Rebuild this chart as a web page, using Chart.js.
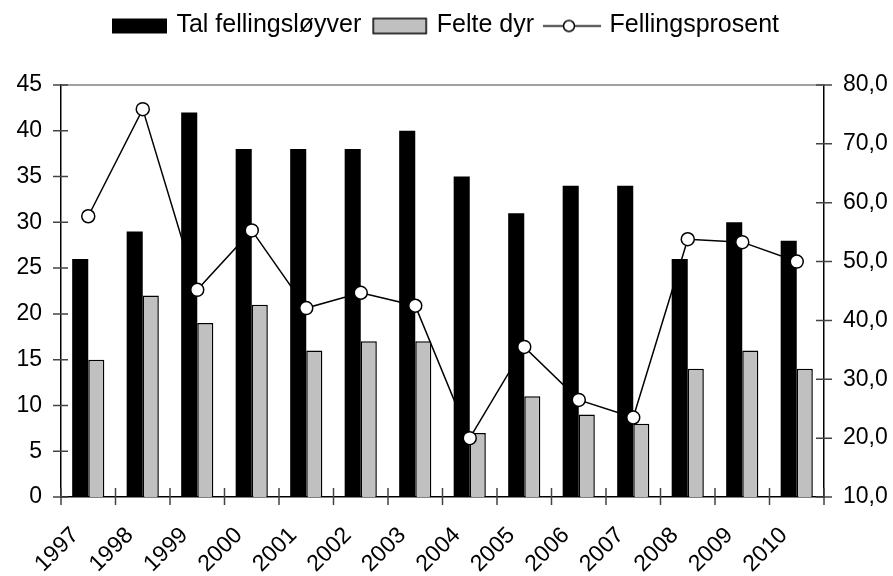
<!DOCTYPE html>
<html>
<head>
    <title>Fellingsprosent</title>
    <style>
        body { margin: 0; background: #fff; }
        .chartBox { width: 893px; height: 576px; }
    </style>
</head>
<body>
    <div class="chartBox">
        <canvas id="myChart" width="893" height="576"></canvas>
    </div>
</body>
<script src="https://cdn.jsdelivr.net/npm/chart.js"></script>
<script>
    // data
    const years = ["1997", "1998", "1999", "2000", "2001", "2002", "2003",
                   "2004", "2005", "2006", "2007", "2008", "2009", "2010"];
    const talFellingsloyver = [26, 29, 42, 38, 38, 38, 40, 35, 31, 34, 34, 26, 30, 28];
    const felteDyr = [15, 22, 19, 21, 16, 17, 17, 7, 11, 9, 8, 14, 16, 14];
    const fellingsprosent = [57.7, 75.9, 45.2, 55.3, 42.1, 44.7, 42.5, 20.0, 35.5, 26.5, 23.5, 53.8, 53.3, 50.0];
    const seriesNames = ["Tal fellingsløyver", "Felte dyr", "Fellingsprosent"];
    const leftAxis = { min: 0, max: 45, step: 5 };
    const rightAxis = { min: 10, max: 80, step: 10 };

    const fontFamily = "'Liberation Sans', Arial, sans-serif";
    Chart.defaults.font.family = fontFamily;
    Chart.defaults.color = "#000";

    // legend icons drawn on small canvases
    function makeIcon(kind){
        const c = document.createElement("canvas");
        c.width = 60;
        c.height = 30;
        const ctx = c.getContext("2d");
        if(kind === "black"){
            ctx.fillStyle = "#000";
            ctx.fillRect(3, 8, 55, 15);
        } else if(kind === "grey"){
            ctx.fillStyle = "#c0c0c0";
            ctx.fillRect(4, 8, 53, 15);
            ctx.strokeStyle = "#000";
            ctx.lineWidth = 1.5;
            ctx.strokeRect(4, 8, 53, 15);
        } else {
            ctx.strokeStyle = "#000";
            ctx.lineWidth = 1.5;
            ctx.beginPath();
            ctx.moveTo(1, 15.5);
            ctx.lineTo(59, 15.5);
            ctx.stroke();
            ctx.beginPath();
            ctx.arc(27, 15.5, 5.5, 0, Math.PI * 2);
            ctx.fillStyle = "#fff";
            ctx.fill();
            ctx.stroke();
        }
        return c;
    }
    const legendIcons = [makeIcon("black"), makeIcon("grey"), makeIcon("line")];

    // extra room under the legend
    const legendSpace = {
        id: "legendSpace",
        beforeInit(chart){
            const fit = chart.legend.fit;
            chart.legend.fit = function(){
                fit.bind(chart.legend)();
                this.height += 37;
            };
        }
    };

    // tick marks crossing the axes, plus the top border line
    const axisMarks = {
        id: "axisMarks",
        afterDraw(chart){
            const ctx = chart.ctx;
            const area = chart.chartArea;
            const x = chart.scales.x;
            const y = chart.scales.y;
            const y1 = chart.scales.y1;
            ctx.save();
            ctx.strokeStyle = "#808080";
            ctx.lineWidth = 1.5;
            ctx.beginPath();
            ctx.moveTo(area.left, y.getPixelForValue(leftAxis.max));
            ctx.lineTo(area.right, y.getPixelForValue(leftAxis.max));
            ctx.stroke();

            ctx.strokeStyle = "#444";
            ctx.lineWidth = 1.5;
            ctx.beginPath();
            y.ticks.forEach(t => {
                const py = y.getPixelForValue(t.value);
                ctx.moveTo(area.left - 8, py);
                ctx.lineTo(area.left + 7, py);
            });
            y1.ticks.forEach(t => {
                const py = y1.getPixelForValue(t.value);
                ctx.moveTo(area.right - 8, py);
                ctx.lineTo(area.right + 8, py);
            });
            const half = (x.getPixelForValue(1) - x.getPixelForValue(0)) / 2;
            for(let i = 0; i <= years.length; i++){
                const px = x.getPixelForValue(i) - half;
                ctx.moveTo(px, area.bottom - 9);
                ctx.lineTo(px, area.bottom + 8);
            }
            ctx.stroke();
            ctx.restore();
        }
    };

    const data = {
        labels: years,
        datasets: [{
            label: seriesNames[0],
            data: talFellingsloyver,
            backgroundColor: "#000",
            borderColor: "#000",
            borderWidth: 0,
            categoryPercentage: 0.59,
            barPercentage: 1.0,
            yAxisID: "y",
            order: 1
        }, {
            label: seriesNames[1],
            data: felteDyr,
            backgroundColor: "#c0c0c0",
            borderColor: "#000",
            borderWidth: 1.5,
            categoryPercentage: 0.59,
            barPercentage: 1.0,
            yAxisID: "y",
            order: 1
        }, {
            type: "line",
            label: seriesNames[2],
            data: fellingsprosent,
            borderColor: "#000",
            borderWidth: 1.5,
            pointRadius: 6.5,
            pointBorderWidth: 1.5,
            pointBackgroundColor: "#fff",
            pointBorderColor: "#000",
            tension: 0,
            yAxisID: "y1",
            order: 0
        }]
    };

    const config = {
        type: "bar",
        data,
        options: {
            responsive: false,
            animation: false,
            devicePixelRatio: 1,
            layout: { padding: { top: 0, left: 0, right: 0, bottom: 0 } },
            plugins: {
                tooltip: { enabled: false },
                legend: {
                    position: "top",
                    labels: {
                        usePointStyle: true,
                        pointStyleWidth: 50,
                        padding: 13,
                        color: "#000",
                        font: { size: 25, family: fontFamily },
                        generateLabels(chart){
                            return chart.data.datasets.map((ds, i) => ({
                                text: ds.label,
                                pointStyle: legendIcons[i],
                                datasetIndex: i,
                                hidden: false,
                                fontColor: "#000",
                                lineWidth: 0,
                                strokeStyle: "rgba(0,0,0,0)",
                                fillStyle: "rgba(0,0,0,0)"
                            }));
                        }
                    }
                }
            },
            scales: {
                x: {
                    offset: true,
                    grid: { display: false, drawTicks: false },
                    border: { color: "#000", width: 1.5 },
                    ticks: {
                        minRotation: 45,
                        maxRotation: 45,
                        padding: 25,
                        labelOffset: -13,
                        autoSkip: false,
                        color: "#000",
                        font: { size: 23 }
                    },
                    afterFit(scale){
                        scale.paddingLeft = 0;
                        scale.paddingRight = 0;
                        scale.height = 79;
                    }
                },
                y: {
                    position: "left",
                    min: leftAxis.min,
                    max: leftAxis.max,
                    grid: { display: false, drawTicks: false },
                    border: { color: "#000", width: 1.5 },
                    ticks: {
                        stepSize: leftAxis.step,
                        padding: 19,
                        color: "#000",
                        font: { size: 23 }
                    },
                    afterFit(scale){
                        scale.width = 61;
                    }
                },
                y1: {
                    position: "right",
                    min: rightAxis.min,
                    max: rightAxis.max,
                    grid: { display: false, drawTicks: false },
                    border: { color: "#000", width: 1.5 },
                    ticks: {
                        stepSize: rightAxis.step,
                        padding: 19,
                        color: "#000",
                        font: { size: 23 },
                        callback: v => v.toFixed(1).replace(".", ",")
                    },
                    afterFit(scale){
                        scale.width = 69;
                    }
                }
            }
        },
        plugins: [legendSpace, axisMarks]
    };

    let myChart = new Chart(document.getElementById("myChart"), config);
</script>
</html>
